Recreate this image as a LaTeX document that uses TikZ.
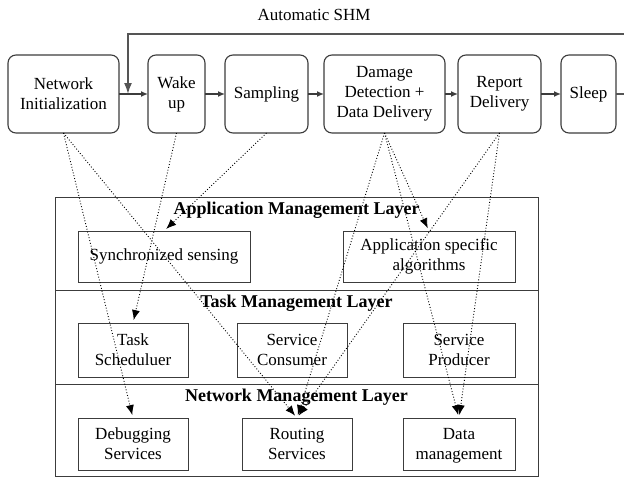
\documentclass[tikz,border=0pt]{standalone}
\usepackage{fontspec}
\setmainfont{Liberation Serif}
\usepackage{tikz}
\usetikzlibrary{positioning,arrows.meta,calc}
\definecolor{FrameGray}{HTML}{3C3C3C}
\definecolor{LoopGray}{HTML}{555555}

\begin{document}
\begin{tikzpicture}[
  x=1pt, y=-1pt,
  font=\fontsize{17}{20}\selectfont,
  stage/.style={draw=FrameGray, rounded corners=8pt, line width=1.1pt, minimum height=78pt, inner sep=2pt, outer sep=0pt, align=center},
  layer/.style={draw=FrameGray, line width=0.9pt, minimum width=483pt, inner sep=0pt, outer sep=0pt},
  part/.style={draw=FrameGray, line width=0.9pt, minimum width=110pt, minimum height=52pt, inner sep=2pt, outer sep=0pt, align=center},
  title/.style={font=\fontsize{18}{20}\selectfont\bfseries, inner sep=0pt},
  flow/.style={-{Latex[length=7pt,width=6pt]}, line width=1.3pt, color=FrameGray},
  feedback/.style={-{Latex[length=11pt,width=8pt]}, line width=1.6pt, color=LoopGray},
  dep/.style={-{Latex[length=10pt,width=8pt]}, dotted, line width=0.9pt, shorten >=3pt}
]
  \useasboundingbox (0,0) rectangle (624,477);

  % Process chain across the top.
  \node at (314,15) (shm) {Automatic SHM};
  \node[stage, minimum width=111pt] (init) at (63.5,94) {Network\\Initialization};
  \node[stage, minimum width=57pt, right=29pt of init] (wake) {Wake\\up};
  \node[stage, minimum width=83pt, right=20pt of wake] (sampling) {Sampling};
  \node[stage, minimum width=121pt, right=16pt of sampling] (detect) {Damage\\Detection +\\Data Delivery};
  \node[stage, minimum width=83pt, right=13pt of detect] (report) {Report\\Delivery};
  \node[stage, minimum width=55pt, right=20pt of report] (sleep) {Sleep};

  \coordinate (loopin) at ($(init.east)!0.31!(wake.west)$);
  \coordinate (looptop) at (630,34);

  \draw[flow] (init) -- (wake);
  \draw[flow] (wake) -- (sampling);
  \draw[flow] (sampling) -- (detect);
  \draw[flow] (detect) -- (report);
  \draw[flow] (report) -- (sleep);
  \draw[feedback] (sleep.east) -- ++(14,0) |- (looptop) -| (loopin);

  % Three stacked layers.
  \node[layer, minimum height=93pt] (applayer) at (296.5,243.5) {};
  \node[layer, minimum height=94pt, below=0pt of applayer] (tasklayer) {};
  \node[layer, minimum height=92pt, below=0pt of tasklayer] (netlayer) {};

  \node[title, below=5pt of applayer.north] (apptitle) {Application Management Layer};
  \node[title, below=5pt of tasklayer.north] (tasktitle) {Task Management Layer};
  \node[title, below=5pt of netlayer.north] (nettitle) {Network Management Layer};

  \node[part, minimum width=172pt, minimum height=51pt] (sync) at (164,256.5) {Synchronized sensing};
  \node[part, minimum width=172pt, minimum height=51pt, right=93pt of sync] (appalg) {Application specific\\algorithms};

  \node[part, minimum height=54pt] (sched) at (133,350) {Task\\Scheduluer};
  \node[part, minimum height=54pt, right=49pt of sched] (consumer) {Service\\Consumer};
  \node[part, minimum width=112pt, minimum height=54pt, right=56pt of consumer] (producer) {Service\\Producer};

  \node[part, below=41pt of sched] (debug) {Debugging\\Services};
  \node[part, right=54pt of debug] (routing) {Routing\\Services};
  \node[part, minimum width=112pt, right=51pt of routing] (datamgmt) {Data\\\smash{management}};

  \draw[dep] (init.south) -- (debug.north);
  \draw[dep] (init.south) -- (routing.north);
  \draw[dep] (wake.south) -- (sched.north);
  \draw[dep] (sampling.south) -- (sync.north);
  \draw[dep] (detect.south) -- (appalg.north);
  \draw[dep] (detect.south) -- (routing.north);
  \draw[dep] (detect.south) -- (datamgmt.north);
  \draw[dep] (report.south) -- (routing.north);
  \draw[dep] (report.south) -- (datamgmt.north);
\end{tikzpicture}
\end{document}
